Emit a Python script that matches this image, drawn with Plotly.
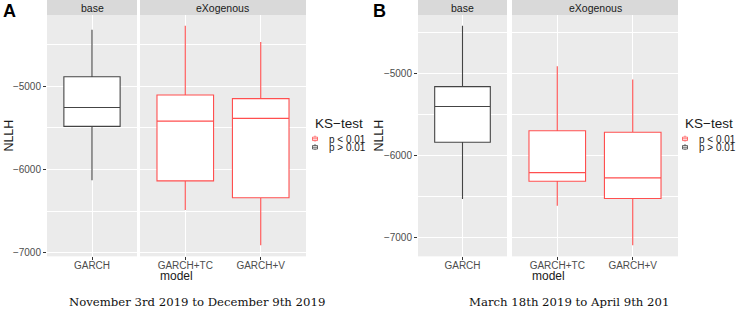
import plotly.graph_objects as go

# ---------------- data ----------------
models = ["GARCH", "GARCH+TC", "GARCH+V"]
facet = ["base", "eXogenous", "eXogenous"]
ks_test = ["p > 0.01", "p < 0.01", "p < 0.01"]
legend_levels = ["p < 0.01", "p > 0.01"]

# Panel A (November 3rd 2019 to December 9th 2019)
A_lower = [-6131, -6488, -6912]
A_q1 = [-5483, -6138, -6340]
A_median = [-5257, -5420, -5388]
A_q3 = [-4888, -5107, -5150]
A_upper = [-4325, -4277, -4471]

# Panel B (March 18th 2019 to April 9th 201)
B_lower = [-6531, -6612, -7096]
B_q1 = [-5838, -6314, -6524]
B_median = [-5403, -6209, -6273]
B_q3 = [-5161, -5698, -5717]
B_upper = [-4420, -4912, -5073]

y_ticks = [-7000, -6000, -5000]
captions = ["November 3rd 2019 to December 9th 2019", "March 18th 2019 to April 9th 201"]
panel_labels = ["A", "B"]

# ---------------- styling ----------------
W, H = 740, 311
colors = {"p < 0.01": "#FF4F4F", "p > 0.01": "#444444"}
PANEL_BG = "#EBEBEB"
STRIP_BG = "#D9D9D9"
TICK_COL = "#4D4D4D"
FONT = "Liberation Sans, Arial, sans-serif"
SERIF = "DejaVu Serif, Liberation Serif, serif"


def px_x(p):
    return p / W


def px_y(p):
    return 1 - p / H


panels = [
    dict(xb=(47, 137), xe=(140, 306), y=(15, 258), lower=A_lower, q1=A_q1, med=A_median, q3=A_q3, upper=A_upper,
         off=0, cap_x=197),
    dict(xb=(418, 507), xe=(512, 678), y=(15, 258), lower=B_lower, q1=B_q1, med=B_median, q3=B_q3, upper=B_upper,
         off=370, cap_x=569),
]

fig = go.Figure()
layout = dict(
    width=W, height=H, margin=dict(l=0, r=0, t=0, b=0),
    paper_bgcolor="white", plot_bgcolor=PANEL_BG,
    font=dict(family=FONT, color="#1A1A1A"),
    showlegend=False, boxmode="overlay",
)
annotations = []
shapes = []


def ax_key(name, kind):
    n = name[1:]
    return f"{kind}axis" + ("" if n == "1" else n)


def ann(text, x, y, size, color="#1A1A1A", family=FONT, xanchor="center", angle=0):
    annotations.append(dict(text=text, xref="paper", yref="paper", x=px_x(x), y=px_y(y),
                            showarrow=False, font=dict(size=size, color=color, family=family),
                            xanchor=xanchor, yanchor="middle", textangle=angle))


for pi, P in enumerate(panels):
    off = P["off"]
    xb_name = f"x{2 * pi + 1}"
    xe_name = f"x{2 * pi + 2}"
    yb_name = f"y{2 * pi + 1}"
    ye_name = f"y{2 * pi + 2}"
    lo = min(P["lower"])
    hi = max(P["upper"])
    pad = (hi - lo) * 0.05
    yr = [lo - pad, hi + pad]
    ydom = [px_y(P["y"][1]), px_y(P["y"][0])]

    for (xn, yn, xr, cats, showlab) in [
        (xb_name, yb_name, P["xb"], [m for m, f in zip(models, facet) if f == "base"], True),
        (xe_name, ye_name, P["xe"], [m for m, f in zip(models, facet) if f == "eXogenous"], False),
    ]:
        layout[ax_key(xn, "x")] = dict(
            domain=[px_x(xr[0]), px_x(xr[1])], anchor=yn, type="category",
            categoryorder="array", categoryarray=cats,
            range=[-0.6, len(cats) - 0.4], showgrid=True, gridcolor="white", gridwidth=1,
            zeroline=False, showline=False, ticks="outside", ticklen=3, tickcolor="#333333",
            ticklabelstandoff=-3,
            tickfont=dict(size=10, color=TICK_COL, family=FONT), fixedrange=True,
        )
        layout[ax_key(yn, "y")] = dict(
            domain=ydom, anchor=xn, range=yr, tickvals=y_ticks,
            showgrid=True, gridcolor="white", gridwidth=1.1, zeroline=False, showline=False,
            ticks="outside" if showlab else "", ticklen=3, tickcolor="#333333",
            showticklabels=showlab, tickfont=dict(size=10, color=TICK_COL, family=FONT),
            minor=dict(dtick=500, tick0=-7500, showgrid=True, gridcolor="white", gridwidth=0.5, ticks=""),
            fixedrange=True,
        )
        shapes.append(dict(type="rect", xref="paper", yref="paper",
                           x0=px_x(xr[0]), x1=px_x(xr[1]), y0=px_y(P["y"][0]), y1=px_y(0),
                           fillcolor=STRIP_BG, line=dict(width=0), layer="below"))
        ann("base" if showlab else "eXogenous", (xr[0] + xr[1]) / 2, P["y"][0] / 2 + 0.5, 10.5)

    for i, m in enumerate(models):
        grp = ks_test[i]
        xa = xb_name if facet[i] == "base" else xe_name
        ya = yb_name if facet[i] == "base" else ye_name
        fig.add_trace(go.Box(
            x=[m], q1=[P["q1"][i]], median=[P["med"][i]], q3=[P["q3"][i]],
            lowerfence=[P["lower"][i]], upperfence=[P["upper"][i]],
            name=grp, xaxis=xa, yaxis=ya, width=0.75, whiskerwidth=0,
            line=dict(color=colors[grp], width=1.1), fillcolor="white",
            boxpoints=False, hoverinfo="skip",
        ))

    # legend (drawn as annotations + small key glyphs)
    ann("KS\u2212test", off + 313, 124.5, 13.5, xanchor="left")
    for k, lev in enumerate(legend_levels):
        yc = 140 + 8.5 * k
        ann(lev, off + 327, yc, 10, xanchor="left")
        c = colors[lev]
        kx0, kx1 = off + 312.5, off + 317.5
        shapes.append(dict(type="line", xref="paper", yref="paper", x0=px_x((kx0 + kx1) / 2), x1=px_x((kx0 + kx1) / 2),
                           y0=px_y(yc - 3.5), y1=px_y(yc + 2.5), line=dict(color=c, width=0.8)))
        shapes.append(dict(type="rect", xref="paper", yref="paper", x0=px_x(kx0), x1=px_x(kx1),
                           y0=px_y(yc - 2), y1=px_y(yc + 1.5), fillcolor="white", line=dict(color=c, width=0.8)))
        shapes.append(dict(type="line", xref="paper", yref="paper", x0=px_x(kx0), x1=px_x(kx1),
                           y0=px_y(yc - 0.3), y1=px_y(yc - 0.3), line=dict(color=c, width=0.8)))

    ymid = (P["y"][0] + P["y"][1]) / 2
    ann("NLLH", off + 9, ymid, 12.5, angle=-90)
    ann("model", (P["xb"][0] + P["xe"][1]) / 2, 277.5, 12)
    ann(captions[pi], P["cap_x"], 303.5, 11.7, color="#111111", family=SERIF)
    ann("<b>" + panel_labels[pi] + "</b>", off + 9.5, 11.5, 18, color="black")

layout["annotations"] = annotations
layout["shapes"] = shapes
fig.update_layout(**layout)
fig.write_html("out.html", config={"displayModeBar": False},
               post_script="document.body.style.margin='0';document.body.style.overflow='hidden';")
